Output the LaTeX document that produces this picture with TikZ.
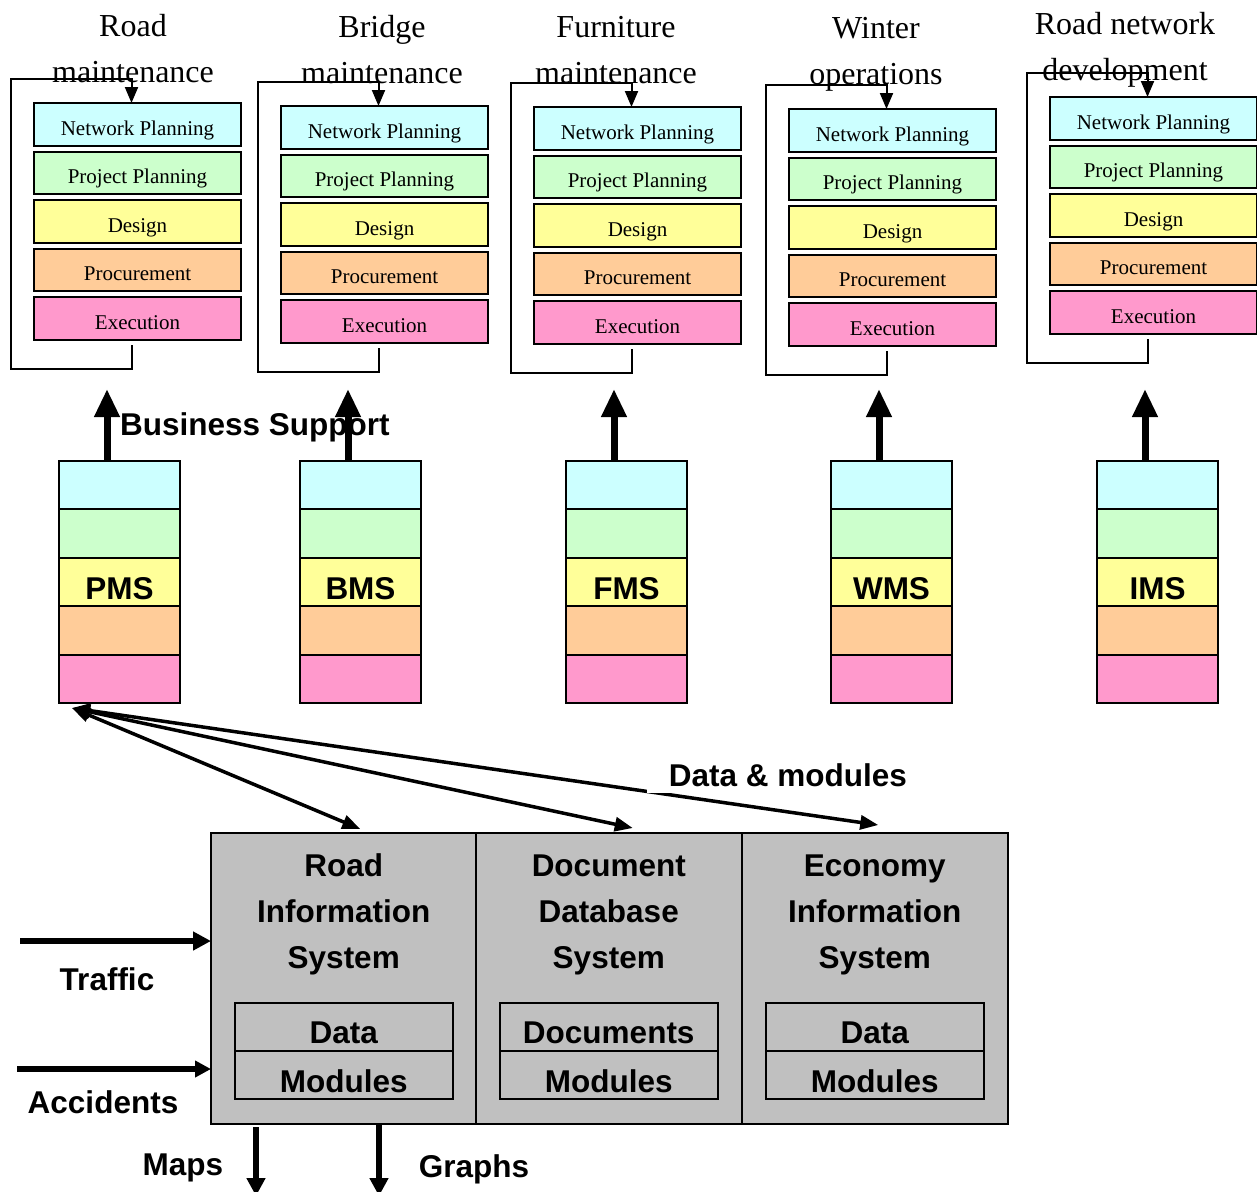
\documentclass[tikz,border=0pt]{standalone}
\usepackage{fontspec}
\setmainfont{Liberation Serif}
\setsansfont{Liberation Sans}
\usetikzlibrary{arrows.meta,calc}
\definecolor{cyanL}{HTML}{CCFFFF}
\definecolor{grnL}{HTML}{CCFFCC}
\definecolor{yelL}{HTML}{FFFF99}
\definecolor{orgL}{HTML}{FFCC99}
\definecolor{pnkL}{HTML}{FF99CC}
\definecolor{grayL}{HTML}{C0C0C0}
\newcommand{\boldsans}{\fontsize{31.5}{46}\selectfont\sffamily\bfseries}
\tikzset{
  stage/.style={draw=black, line width=2pt, anchor=north west, minimum width=207pt, outer sep=0pt,
    inner sep=0pt, text height=32pt, text depth=10.5pt, font=\fontsize{21}{21}\selectfont},
  coltitle/.style={anchor=base, align=center, inner sep=0pt, font=\fontsize{32}{46}\selectfont},
  loopline/.style={line width=2pt, -{Triangle[length=16pt,width=13pt]}},
  layer/.style={draw=black, line width=2pt, anchor=north west, minimum width=121pt, outer sep=0pt,
    minimum height=48.4pt, inner sep=0pt},
  bigup/.style={line width=7pt, -{Triangle[length=28pt,width=24pt]}},
  sys/.style={draw=black, line width=2pt, fill=grayL, anchor=north west, minimum width=265.5pt,
    minimum height=291pt, inner sep=0pt, outer sep=0pt},
  systitle/.style={anchor=base, align=center, inner sep=0pt, font=\boldsans},
  innerbox/.style={draw=black, line width=2pt, fill=grayL, anchor=north, minimum width=218pt,
    inner sep=0pt, outer sep=0pt, font=\boldsans},
  lbl/.style={inner sep=0pt, font=\boldsans},
  darrow/.style={line width=3.5pt, {Triangle[length=18pt,width=14pt]}-{Triangle[length=18pt,width=14pt]}},
  sidearrow/.style={line width=6pt, -{Triangle[length=18pt,width=18pt]}}
}
\begin{document}
\begin{tikzpicture}[x=1pt,y=-1pt]
\clip (0,0) rectangle (1257,1191);
\fill[white] (0,0) rectangle (1257,1191);

% ---------- top columns ----------
\foreach \c/\L/\T/\tx/\ty/\ttl in {
  1/34/103/133/82/{Road\\maintenance},
  2/281/106/382/83/{Bridge\\maintenance},
  3/534/107/616/83/{Furniture\\maintenance},
  4/789/109/876/84/{Winter\\operations},
  5/1050/97/1125/80/{Road network\\development}}{
  \node[stage, fill=cyanL] (np\c) at (\L,\T) {Network Planning};
  \node[stage, fill=grnL]  (pp\c) at (\L,\T+48.5) {Project Planning};
  \node[stage, fill=yelL]  (de\c) at (\L,\T+97) {Design};
  \node[stage, fill=orgL]  (pr\c) at (\L,\T+145.5) {Procurement};
  \node[stage, fill=pnkL]  (ex\c) at (\L,\T+194) {Execution};
  \draw[loopline] ($(ex\c.south west)+(97.5,5.5)$) -- ++(0,24)
     -| ($(np\c.north west)+(-23.5,-24.5)$) -| ($(np\c.north west)+(97.5,0)$);
  \node[coltitle] (t\c) at (\tx,\ty) {\ttl};
}

% ---------- middle stacks ----------
\foreach \c/\X/\lab in {1/59/PMS,2/300/BMS,3/566/FMS,4/831/WMS,5/1097/IMS}{
  \node[layer, fill=cyanL] (a\c) at (\X,461) {};
  \node[layer, fill=grnL]  (b\c) at (\X,509.4) {};
  \node[layer, fill=yelL, font=\boldsans, text height=42pt, text depth=6.4pt] (m\c) at (\X,557.8) {\lab};
  \node[layer, fill=orgL]  (d\c) at (\X,606.2) {};
  \node[layer, fill=pnkL]  (e\c) at (\X,654.6) {};
}
\node[lbl, anchor=base west] (bs) at (120,435) {Business Support};
\foreach \c in {1,...,5}{
  \coordinate (up\c) at ($(a\c.north west)+(48,-72)$);
  \draw[bigup] ($(a\c.north west)+(48,0)$) -- (up\c);
}

% ---------- bottom systems ----------
\foreach \n/\X/\ttl/\tp in {
  ris/211/{Road\\Information\\System}/Data,
  dds/476/{Document\\Database\\System}/Documents,
  eis/742/{Economy\\Information\\System}/Data}{
  \node[sys] (\n) at (\X,833) {};
  \node[systitle] (\n t) at ($(\n.north)+(0,135)$) {\ttl};
  \node[innerbox, text height=40pt, text depth=8pt] (\n d) at ($(\n.north)+(0,170)$) {\tp};
  \node[innerbox, text height=41pt, text depth=7pt] (\n m) at (\n d.south) {Modules};
}

% ---------- data & modules arrows ----------
\coordinate (dm) at (72,708);
\draw[darrow] (dm) -- ($(ris.north)+(16.5,-4)$);
\draw[darrow] (dm) -- ($(dds.north)+(24,-5)$);
\draw[darrow] (dm) -- ($(eis.north)+(3.5,-8)$);
\node[lbl, fill=white, anchor=south, minimum width=282pt, text height=27pt, text depth=6pt] (dml) at (788,793) {Data \& modules};

% ---------- side inputs / outputs ----------
\coordinate (trs) at (20,941);
\coordinate (acs) at (17,1069);
\draw[sidearrow] (trs) -- (trs -| ris.west);
\draw[line width=6pt, -{Triangle[length=16pt,width=16pt]}] (acs) -- (acs -| ris.west);
\node[lbl, anchor=base] (trl) at (107,990) {Traffic};
\node[lbl, anchor=base] (acl) at (103,1113) {Accidents};
\draw[sidearrow] ($(ris.south west)+(45,3)$) -- ++(0,69);
\draw[sidearrow] ($(ris.south west)+(168,0)$) -- ++(0,72);
\node[lbl, anchor=base] (mpl) at (183,1175) {Maps};
\node[lbl, anchor=base] (grl) at (474,1177) {Graphs};
\end{tikzpicture}
\end{document}
